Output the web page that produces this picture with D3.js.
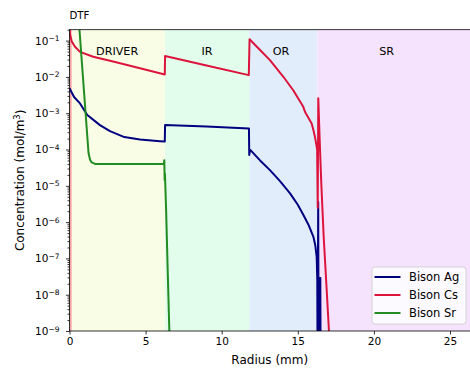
<!DOCTYPE html>
<html>
<head>
<meta charset="utf-8">
<script src="https://cdn.jsdelivr.net/npm/d3@7/dist/d3.min.js"></script>
<style>
  html, body { margin: 0; padding: 0; background: #fff; }
  svg { display: block; font-family: "DejaVu Sans", sans-serif; }
</style>
</head>
<body>
<svg id="chart" width="470" height="373"></svg>
<script>
// Fuel regions (radius bounds in mm) and their shading
const regionNames = ["DTF", "DRIVER", "IR", "OR", "SR"];
const regionStart = [0, 0.15, 6.27, 11.81, 16.28];
const regionEnd = [0.15, 6.27, 11.81, 16.28, 30];
const regionColors = ["#f8a0a4", "#f9fde5", "#e3fdec", "#e1edfb", "#f5e3fd"];
const regionLabelX = [0, 3.13, 9.04, 13.9, 20.84];

// Bison Ag concentration profile (mol/m^3)
const agRadius = [0.00, 0.30, 0.69, 1.17, 2.00, 2.66, 3.60, 4.63, 5.95, 6.26, 6.28, 9.00, 11.79, 11.81, 11.86, 12.00, 12.52, 13.17, 13.83, 14.49, 15.00, 15.36, 15.70, 16.02, 16.15, 16.24, 16.28, 16.30, 16.34, 16.37, 16.39, 16.48, 16.50];
const agConc = [4.9e-3, 2.8e-3, 1.86e-3, 8.9e-4, 4.7e-4, 3.2e-4, 2.2e-4, 1.9e-4, 1.7e-4, 1.66e-4, 4.7e-4, 4.3e-4, 3.8e-4, 7.1e-5, 9.8e-5, 8.6e-5, 5.0e-5, 2.7e-5, 1.35e-5, 6.2e-6, 3.0e-6, 1.6e-6, 8.5e-7, 4.0e-7, 2.3e-7, 1.1e-7, 2.5e-8, 1e-10, 3.6e-6, 1e-10, 2.9e-8, 2.9e-8, 1e-10];

// Bison Cs concentration profile (mol/m^3)
const csRadius = [0.00, 0.03, 0.15, 0.36, 0.69, 1.56, 3.00, 4.50, 6.26, 6.28, 9.00, 11.78, 11.83, 12.52, 13.17, 14.05, 14.70, 15.36, 15.47, 15.91, 16.02, 16.13, 16.24, 16.27, 16.31, 16.345, 16.45, 16.55, 16.70, 16.90, 17.06];
const csConc = [0.3, 0.15, 0.095, 0.068, 0.049, 0.036, 0.0257, 0.0178, 0.0117, 0.0377, 0.0207, 0.0112, 0.109, 0.055, 0.029, 0.0101, 4.3e-3, 1.5e-3, 1.1e-3, 5.2e-4, 3.5e-4, 2.2e-4, 1.2e-4, 9.8e-5, 2.5e-6, 2.6e-3, 1.3e-4, 1e-5, 4e-7, 1.3e-8, 8e-10];

// Bison Sr concentration profile (mol/m^3)
const srRadius = [0.48, 1.25, 1.35, 1.46, 1.68, 6.20, 6.23, 6.25, 6.27, 6.35, 6.45, 6.56, 6.62];
const srConc = [2.0, 8e-5, 5.2e-5, 4.4e-5, 4.0e-5, 4.0e-5, 5.1e-5, 1.45e-5, 2.2e-5, 2e-6, 5e-8, 1e-9, 1e-10];

const seriesNames = ["Bison Ag", "Bison Cs", "Bison Sr"];
const seriesColors = ["#000080", "#dc143c", "#228b22"];

const xTicks = [0, 5, 10, 15, 20, 25];
const yMajorExp = [-9, -8, -7, -6, -5, -4, -3, -2, -1];

const margin = { left: 69.5, top: 29.7, right: 472, bottom: 331 };

const svg = d3.select("#chart");
const x = d3.scaleLinear().domain([0, (472 - 69.5) / 15.22]).range([margin.left, margin.right]);
const y = d3.scaleLog().domain([1e-9, 0.2]).range([margin.bottom, margin.top]);

svg.append("defs").append("clipPath").attr("id", "plotclip")
  .append("rect")
  .attr("x", margin.left).attr("y", margin.top)
  .attr("width", margin.right - margin.left).attr("height", margin.bottom - margin.top);

const plot = svg.append("g").attr("clip-path", "url(#plotclip)");

// Region shading
plot.selectAll("rect.region").data(regionNames).enter().append("rect")
  .attr("class", "region")
  .attr("x", (d, i) => x(regionStart[i]))
  .attr("width", (d, i) => x(regionEnd[i]) - x(regionStart[i]))
  .attr("y", margin.top).attr("height", margin.bottom - margin.top)
  .attr("fill", (d, i) => regionColors[i]);

// Region labels (DTF sits above the axes)
regionNames.forEach((name, i) => {
  if (name === "DTF") {
    svg.append("text").attr("x", x(regionLabelX[i])).attr("y", 18.5)
      .attr("font-size", "10.2px").attr("fill", "#000").text(name);
  } else {
    svg.append("text").attr("x", x(regionLabelX[i])).attr("y", 54.5)
      .attr("text-anchor", "middle").attr("font-size", "11.2px").attr("fill", "#000").text(name);
  }
});

// Series lines
const line = d3.line().x(d => x(d[0])).y(d => y(d[1]));
const series = [
  d3.zip(agRadius, agConc),
  d3.zip(csRadius, csConc),
  d3.zip(srRadius, srConc)
];
series.forEach((pts, i) => {
  plot.append("path").datum(pts)
    .attr("d", line)
    .attr("fill", "none")
    .attr("stroke", seriesColors[i])
    .attr("stroke-width", 2)
    .attr("stroke-linejoin", "round");
});

// Axes
const xAxis = svg.append("g").attr("transform", `translate(0,${margin.bottom})`)
  .call(d3.axisBottom(x).tickValues(xTicks).tickSize(3.5).tickPadding(3.5).tickFormat(d3.format("d")));

const yMinor = [];
for (let e = -9; e <= -1; e++) {
  for (let m = 2; m <= 9; m++) {
    const v = m * Math.pow(10, e);
    if (v <= 0.2) yMinor.push(v);
  }
}
svg.append("g").attr("transform", `translate(${margin.left},0)`)
  .call(d3.axisLeft(y).tickValues(yMinor).tickSize(2).tickFormat(""));

const yAxis = svg.append("g").attr("transform", `translate(${margin.left},0)`)
  .call(d3.axisLeft(y).tickValues(yMajorExp.map(e => Math.pow(10, e))).tickSize(3.5).tickPadding(3.5).tickFormat(""));

yAxis.selectAll(".tick").each(function (d, i) {
  const t = d3.select(this).append("text")
    .attr("x", -10).attr("dy", "0.32em")
    .attr("text-anchor", "end").attr("fill", "#000").attr("font-size", "10.5px");
  t.append("tspan").text("10");
  t.append("tspan").attr("dy", "-0.45em").attr("font-size", "7.5px").text("\u2212" + Math.abs(yMajorExp[i]));
});

[xAxis, yAxis].forEach(a => {
  a.selectAll("text").attr("font-family", "DejaVu Sans").attr("fill", "#000");
  a.select(".domain").remove();
});
xAxis.selectAll("text").attr("font-size", "10.5px");
svg.selectAll(".tick line").attr("stroke", "#000").attr("stroke-width", 0.8);
svg.selectAll(".domain").remove();

// Spines
svg.append("rect")
  .attr("x", margin.left).attr("y", margin.top)
  .attr("width", margin.right - margin.left).attr("height", margin.bottom - margin.top)
  .attr("fill", "none").attr("stroke", "#000").attr("stroke-width", 0.8);

// Axis titles
svg.append("text").attr("x", (margin.left + 470) / 2).attr("y", 363.5)
  .attr("text-anchor", "middle").attr("font-size", "12px").text("Radius (mm)");
const yl = svg.append("text")
  .attr("transform", `translate(23.5,${(margin.top + margin.bottom) / 2}) rotate(-90)`)
  .attr("text-anchor", "middle").attr("font-size", "12px");
yl.append("tspan").text("Concentration (mol/m");
yl.append("tspan").attr("dy", "-0.45em").attr("font-size", "8.4px").text("3");
yl.append("tspan").attr("dy", "0.45em").text(")");

// Legend
const lg = svg.append("g").attr("transform", "translate(372,267)");
lg.append("rect").attr("width", 94).attr("height", 57).attr("rx", 3)
  .attr("fill", "#fff").attr("fill-opacity", 0.8).attr("stroke", "#ccc").attr("stroke-width", 0.8);
seriesNames.forEach((name, i) => {
  const yy = 10 + i * 18;
  lg.append("line").attr("x1", 2.5).attr("x2", 28.5).attr("y1", yy).attr("y2", yy)
    .attr("stroke", seriesColors[i]).attr("stroke-width", 2);
  lg.append("text").attr("x", 37).attr("y", yy).attr("dy", "0.35em")
    .attr("font-size", "11.5px").attr("fill", "#000").text(name);
});
</script>
</body>
</html>
